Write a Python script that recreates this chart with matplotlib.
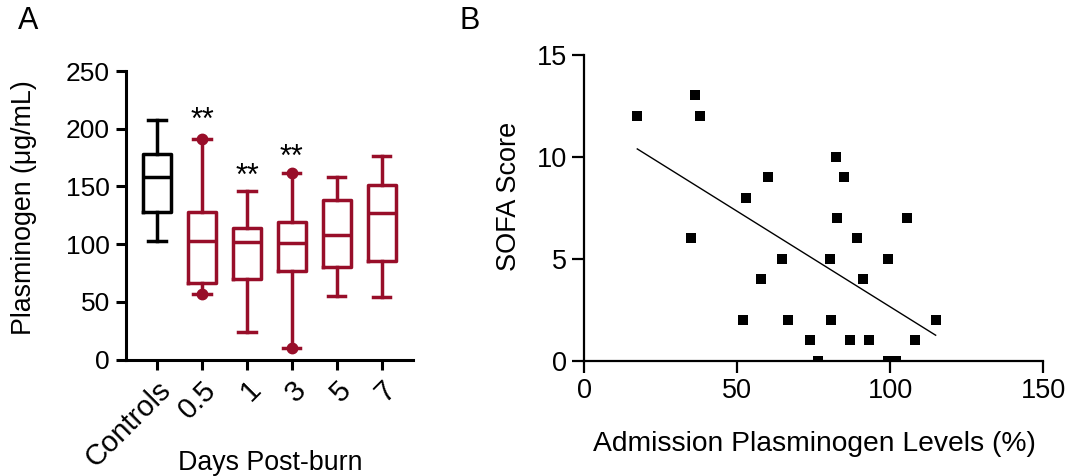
import numpy as np
import matplotlib
matplotlib.use('Agg')
from matplotlib import pyplot as plt
from matplotlib.transforms import ScaledTranslation

plt.rcParams['font.family'] = ['Liberation Sans', 'DejaVu Sans']

# Panel A: box plot summaries (ug/mL)
groups = ['Controls', '0.5', '1', '3', '5', '7']
whis_lo = [103, 57, 24, 10, 55, 54]
q1 = [128, 66, 70, 77, 80, 85]
med = [158, 103, 102, 101, 108, 127]
q3 = [178, 128, 114, 119, 138, 151]
whis_hi = [208, 191, 146, 162, 158, 176]
dot_groups = [1, 3]          # whisker ends drawn with a dot
star_groups = [1, 2, 3]
star_y = [200, 151, 168]

# Panel B: SOFA vs admission plasminogen
plg = [17.4, 36.2, 38.0, 35.1, 52.8, 60.1, 51.8, 64.8, 57.8, 66.7, 73.8, 76.3,
       82.3, 85.0, 82.7, 80.5, 80.7, 86.8, 89.3, 91.2, 93.2, 99.4, 99.4, 101.8,
       105.6, 108.2, 114.9]
sofa = [12, 13, 12, 6, 8, 9, 2, 5, 4, 2, 1, 0,
        10, 9, 7, 5, 2, 1, 6, 4, 1, 5, 0, 0,
        7, 1, 2]

red = '#980E29'
colors = ['black'] + [red] * 5

fig = plt.figure(figsize=(10.72, 4.76), dpi=100)

# ---- A ----
ax = fig.add_axes([0.1175, 0.2447, 0.2677, 0.606])
pos = np.arange(len(groups))
stats = [dict(med=med[i], q1=q1[i], q3=q3[i], whislo=whis_lo[i], whishi=whis_hi[i], fliers=[])
         for i in range(len(groups))]
lw = 2.5
for i in range(len(groups)):
    c = colors[i]
    ax.bxp([stats[i]], positions=[pos[i]], widths=0.62, capwidths=0.38, showfliers=False,
           boxprops=dict(color=c, linewidth=lw), medianprops=dict(color=c, linewidth=lw),
           whiskerprops=dict(color=c, linewidth=lw), capprops=dict(color=c, linewidth=lw))
for i in dot_groups:
    ax.plot([pos[i], pos[i]], [whis_lo[i], whis_hi[i]], 'o', color=red, ms=7.5, clip_on=False)
for i, y in zip(star_groups, star_y):
    ax.text(pos[i], y, '**', ha='center', va='baseline', fontsize=22)

ax.set_xlim(-0.69, 5.69)
ax.set_ylim(0, 250)
ax.set_yticks([0, 50, 100, 150, 200, 250])
ax.set_xticks(pos)
ax.set_xticklabels(groups, rotation=45, ha='right', rotation_mode='anchor', fontsize=21)
shift = ScaledTranslation(-0.11, -0.08, fig.dpi_scale_trans)
for lab in ax.get_xticklabels():
    lab.set_transform(lab.get_transform() + shift)
for s in ['top', 'right']:
    ax.spines[s].set_visible(False)
for s in ['left', 'bottom']:
    ax.spines[s].set_linewidth(2.2)
ax.tick_params(width=2.2, length=7.5, pad=4)
ax.tick_params(axis='y', labelsize=19)
ax.set_ylabel('Plasminogen (\u03bcg/mL)', fontsize=19.3, va='center')
ax.yaxis.set_label_coords(-0.355, 0.527)
ax.set_xlabel('Days Post-burn', fontsize=19.3, va='center')
ax.xaxis.set_label_coords(0.502, -0.357)
fig.text(28 / 1072, 1 - 21 / 476, 'A', fontsize=22, ha='center', va='center')

# ---- B ----
bx = fig.add_axes([0.5448, 0.2422, 0.4282, 0.6429])
bx.scatter(plg, sofa, marker='s', s=52, color='black', zorder=3, linewidths=0)
slope, icpt = np.polyfit(plg, sofa, 1)
xf = np.array([min(plg), max(plg)])
bx.plot(xf, slope * xf + icpt, color='black', linewidth=1)
bx.set_xlim(0, 150)
bx.set_ylim(0, 15)
bx.set_xticks([0, 50, 100, 150])
bx.set_yticks([0, 5, 10, 15])
for s in ['top', 'right']:
    bx.spines[s].set_visible(False)
for s in ['left', 'bottom']:
    bx.spines[s].set_linewidth(1.6)
bx.tick_params(width=1.6, length=8.5, labelsize=19.5, pad=4)
bx.set_ylabel('SOFA Score', fontsize=19.5, va='center')
bx.yaxis.set_label_coords(-0.163, 0.536)
bx.set_xlabel('Admission Plasminogen Levels (%)', fontsize=20.3, va='center')
bx.xaxis.set_label_coords(0.503, -0.272)
fig.text(470 / 1072, 1 - 21 / 476, 'B', fontsize=22, ha='center', va='center')

fig.savefig('out.png', dpi=100)
